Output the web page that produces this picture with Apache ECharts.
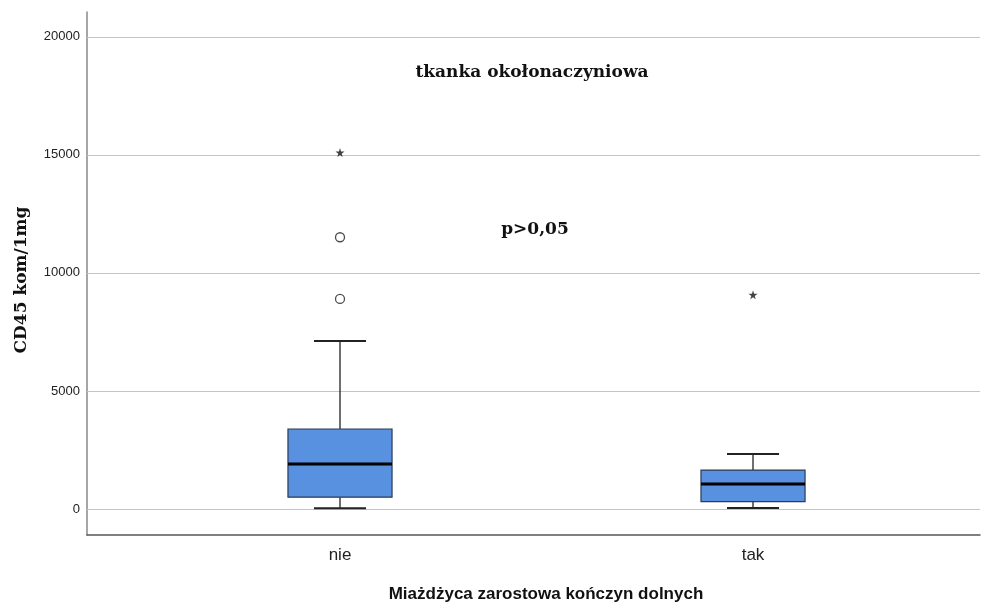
<!DOCTYPE html>
<html>
<head>
<meta charset="utf-8">
<script src="https://cdn.jsdelivr.net/npm/echarts@6/dist/echarts.min.js"></script>
<style>
  html, body { margin: 0; padding: 0; background: #fff; }
  #chart { width: 993px; height: 602px; }
</style>
</head>
<body>
<div id="chart"></div>
<script>
// Groups along the horizontal axis
const categories = ['nie', 'tak'];
// Box statistics per group: lower whisker, Q1, median, Q3, upper whisker
const whiskerLow  = [30, 40];
const q1          = [500, 310];
const medians     = [1910, 1060];
const q3          = [3390, 1650];
const whiskerHigh = [7120, 2330];
// Outliers (circles) and extreme values (stars): [group index, value]
const outliers = [[0, 11510], [0, 8900]];
const extremes = [[0, 15100], [1, 9070]];
// Value axis tick labels
const yTicks = [0, 5000, 10000, 15000, 20000];

const boxData = categories.map((c, i) => [i, whiskerLow[i], q1[i], medians[i], q3[i], whiskerHigh[i]]);

const BOX_W = 0.252;
const CAP_W = 0.126;
const starPath = 'path://M50,0 L61,35 L98,35 L68,57 L79,91 L50,70 L21,91 L32,57 L2,35 L39,35 Z';

const chart = echarts.init(document.getElementById('chart'), null, { renderer: 'canvas' });

chart.setOption({
  animation: false,
  backgroundColor: '#ffffff',
  grid: { left: 87, right: 13, top: 12, bottom: 67, containLabel: false },
  xAxis: {
    type: 'value',
    min: -0.6126,
    max: 1.5496,
    splitLine: { show: false },
    axisTick: { show: false },
    axisLine: { show: true, onZero: false, lineStyle: { color: '#555', width: 1.5 } },
    axisLabel: {
      customValues: [0, 1],
      formatter: v => categories[Math.round(v)] || '',
      color: '#222',
      fontFamily: 'Liberation Sans, Arial, sans-serif',
      fontSize: 17,
      margin: 12
    }
  },
  yAxis: {
    type: 'value',
    min: -1100,
    max: 21050,
    splitLine: { show: false },
    axisTick: { show: false },
    axisLine: { show: true, onZero: false, lineStyle: { color: '#888', width: 1.5 } },
    axisLabel: {
      customValues: yTicks,
      formatter: v => String(v),
      color: '#222',
      fontFamily: 'Liberation Sans, Arial, sans-serif',
      fontSize: 13,
      margin: 7
    }
  },
  graphic: [
    {
      type: 'text',
      x: 22, y: 280,
      rotation: Math.PI / 2,
      style: {
        text: 'CD45 kom/1mg',
        font: 'bold 17px "DejaVu Serif", "Liberation Serif", serif',
        fill: '#111', align: 'center', verticalAlign: 'middle'
      }
    },
    {
      type: 'text',
      x: 532, y: 73,
      style: {
        text: 'tkanka okołonaczyniowa',
        font: 'bold 17px "DejaVu Serif", "Liberation Serif", serif',
        fill: '#111', align: 'center', verticalAlign: 'middle'
      }
    },
    {
      type: 'text',
      x: 535, y: 230,
      style: {
        text: 'p>0,05',
        font: 'bold 17px "DejaVu Serif", "Liberation Serif", serif',
        fill: '#111', align: 'center', verticalAlign: 'middle'
      }
    },
    {
      type: 'text',
      x: 546, y: 594,
      style: {
        text: 'Miażdżyca zarostowa kończyn dolnych',
        font: 'bold 17px "Liberation Sans", Arial, sans-serif',
        fill: '#111', align: 'center', verticalAlign: 'middle'
      }
    }
  ],
  series: [
    {
      // grid lines at the labelled ticks
      type: 'line',
      data: [],
      silent: true,
      markLine: {
        silent: true,
        symbol: ['none', 'none'],
        label: { show: false },
        lineStyle: { color: '#c4c4c4', type: 'solid', width: 1.2 },
        data: yTicks.map(v => ({ yAxis: v }))
      }
    },
    {
      type: 'custom',
      data: boxData,
      z: 5,
      renderItem: function (params, api) {
        const x = api.value(0);
        const lo = api.value(1), a = api.value(2), m = api.value(3), b = api.value(4), hi = api.value(5);
        const bw = api.size([BOX_W, 0])[0];
        const cw = api.size([CAP_W, 0])[0];
        const pLo = api.coord([x, lo]);
        const pA = api.coord([x, a]);
        const pM = api.coord([x, m]);
        const pB = api.coord([x, b]);
        const pHi = api.coord([x, hi]);
        const cx = pM[0];
        const lineStyle = { stroke: '#222', lineWidth: 1.3 };
        return {
          type: 'group',
          children: [
            { type: 'line', shape: { x1: cx, y1: pHi[1], x2: cx, y2: pB[1] }, style: lineStyle },
            { type: 'line', shape: { x1: cx, y1: pA[1], x2: cx, y2: pLo[1] }, style: lineStyle },
            { type: 'line', shape: { x1: cx - cw / 2, y1: pHi[1], x2: cx + cw / 2, y2: pHi[1] }, style: { stroke: '#222', lineWidth: 2 } },
            { type: 'line', shape: { x1: cx - cw / 2, y1: pLo[1], x2: cx + cw / 2, y2: pLo[1] }, style: { stroke: '#222', lineWidth: 2 } },
            {
              type: 'rect',
              shape: { x: cx - bw / 2, y: pB[1], width: bw, height: pA[1] - pB[1] },
              style: { fill: '#5891e0', stroke: '#2b3b55', lineWidth: 1.2 }
            },
            { type: 'line', shape: { x1: cx - bw / 2, y1: pM[1], x2: cx + bw / 2, y2: pM[1] }, style: { stroke: '#000', lineWidth: 3 } }
          ]
        };
      }
    },
    {
      type: 'scatter',
      data: outliers,
      symbol: 'circle',
      symbolSize: 9,
      z: 6,
      itemStyle: { color: '#fff', borderColor: '#222', borderWidth: 1.3 }
    },
    {
      type: 'scatter',
      data: extremes,
      symbol: starPath,
      symbolSize: 9,
      z: 6,
      itemStyle: { color: '#111' }
    }
  ]
});
</script>
</body>
</html>
